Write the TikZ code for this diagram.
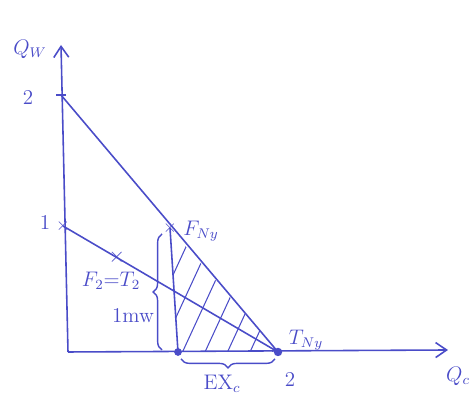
\documentclass[tikz,border=0pt]{standalone}
\usetikzlibrary{arrows.meta,decorations.pathreplacing}
\definecolor{pen}{RGB}{74,76,200}
\tikzset{
  axis/.style={pen, line width=0.9pt, -{Straight Barb[length=2.2mm,width=3mm]}},
  budget/.style={pen, line width=0.9pt},
  lbl/.style={pen, font=\large},
  brace/.style={pen, line width=0.8pt, decorate, decoration={brace, amplitude=5pt}},
}
\begin{document}
\begin{tikzpicture}
  \useasboundingbox (0,0) rectangle (9.52,7.98);

  \coordinate (O) at (1.36,0.94);
  \coordinate (ytop) at (1.22,7.08);
  \coordinate (xend) at (8.96,0.98);
  \coordinate (w2) at (1.22,6.08);
  \coordinate (w1) at (1.26,3.46);
  \coordinate (TNy) at (5.56,0.94);
  \coordinate (FNy) at (3.40,3.42);
  \coordinate (base) at (3.56,0.94);

  % hatched area under the new line, right of F_Ny
  \begin{scope}
    \clip (FNy) -- (base) -- (TNy) -- cycle;
    \foreach \s in {2.75,3.2,...,5.9}
      \draw[pen, line width=0.6pt] (\s,0.94) -- ++(1.2,2.6);
  \end{scope}

  \draw[axis] (O) -- (ytop);
  \draw[axis] (O) -- (xend);
  \node[lbl] (qw) at (0.60,7.00) {$Q_W$};
  \node[lbl] (qc) at (9.16,0.46) {$Q_c$};

  \draw[budget] (w2) -- (TNy);
  \draw[budget] (w1) -- (TNy) node[pos=0.25, pen, font=\large] (f2) {$\times$};
  \draw[budget] (FNy) -- (base);

  \draw[pen, line width=0.8pt] (w2) ++(-0.1,0) -- ++(0.2,0);
  \node[pen] at (w1) {$\times$};
  \node[pen] at (FNy) {$\times$};
  \fill[pen] (base) circle (2.2pt);
  \fill[pen] (TNy) circle (2.4pt);

  \node[lbl] (l2) at (0.56,6.02) {2};
  \node[lbl] (l1) at (0.90,3.54) {1};
  \node[lbl] (fny) at (4.02,3.36) {$F_{Ny}$};
  \node[lbl] (f2t2) at (2.22,2.36) {$F_2{=}T_2$};
  \node[lbl] (tny) at (6.12,1.18) {$T_{Ny}$};
  \node[lbl] (x2) at (5.80,0.40) {2};

  \draw[brace] (3.24,0.98) -- (3.24,3.30);
  \node[lbl] (mw) at (2.66,1.66) {1mw};
  \draw[brace] (5.50,0.80) -- (3.62,0.80);
  \node[lbl] (ex) at (4.44,0.30) {EX$_c$};
\end{tikzpicture}
\end{document}
